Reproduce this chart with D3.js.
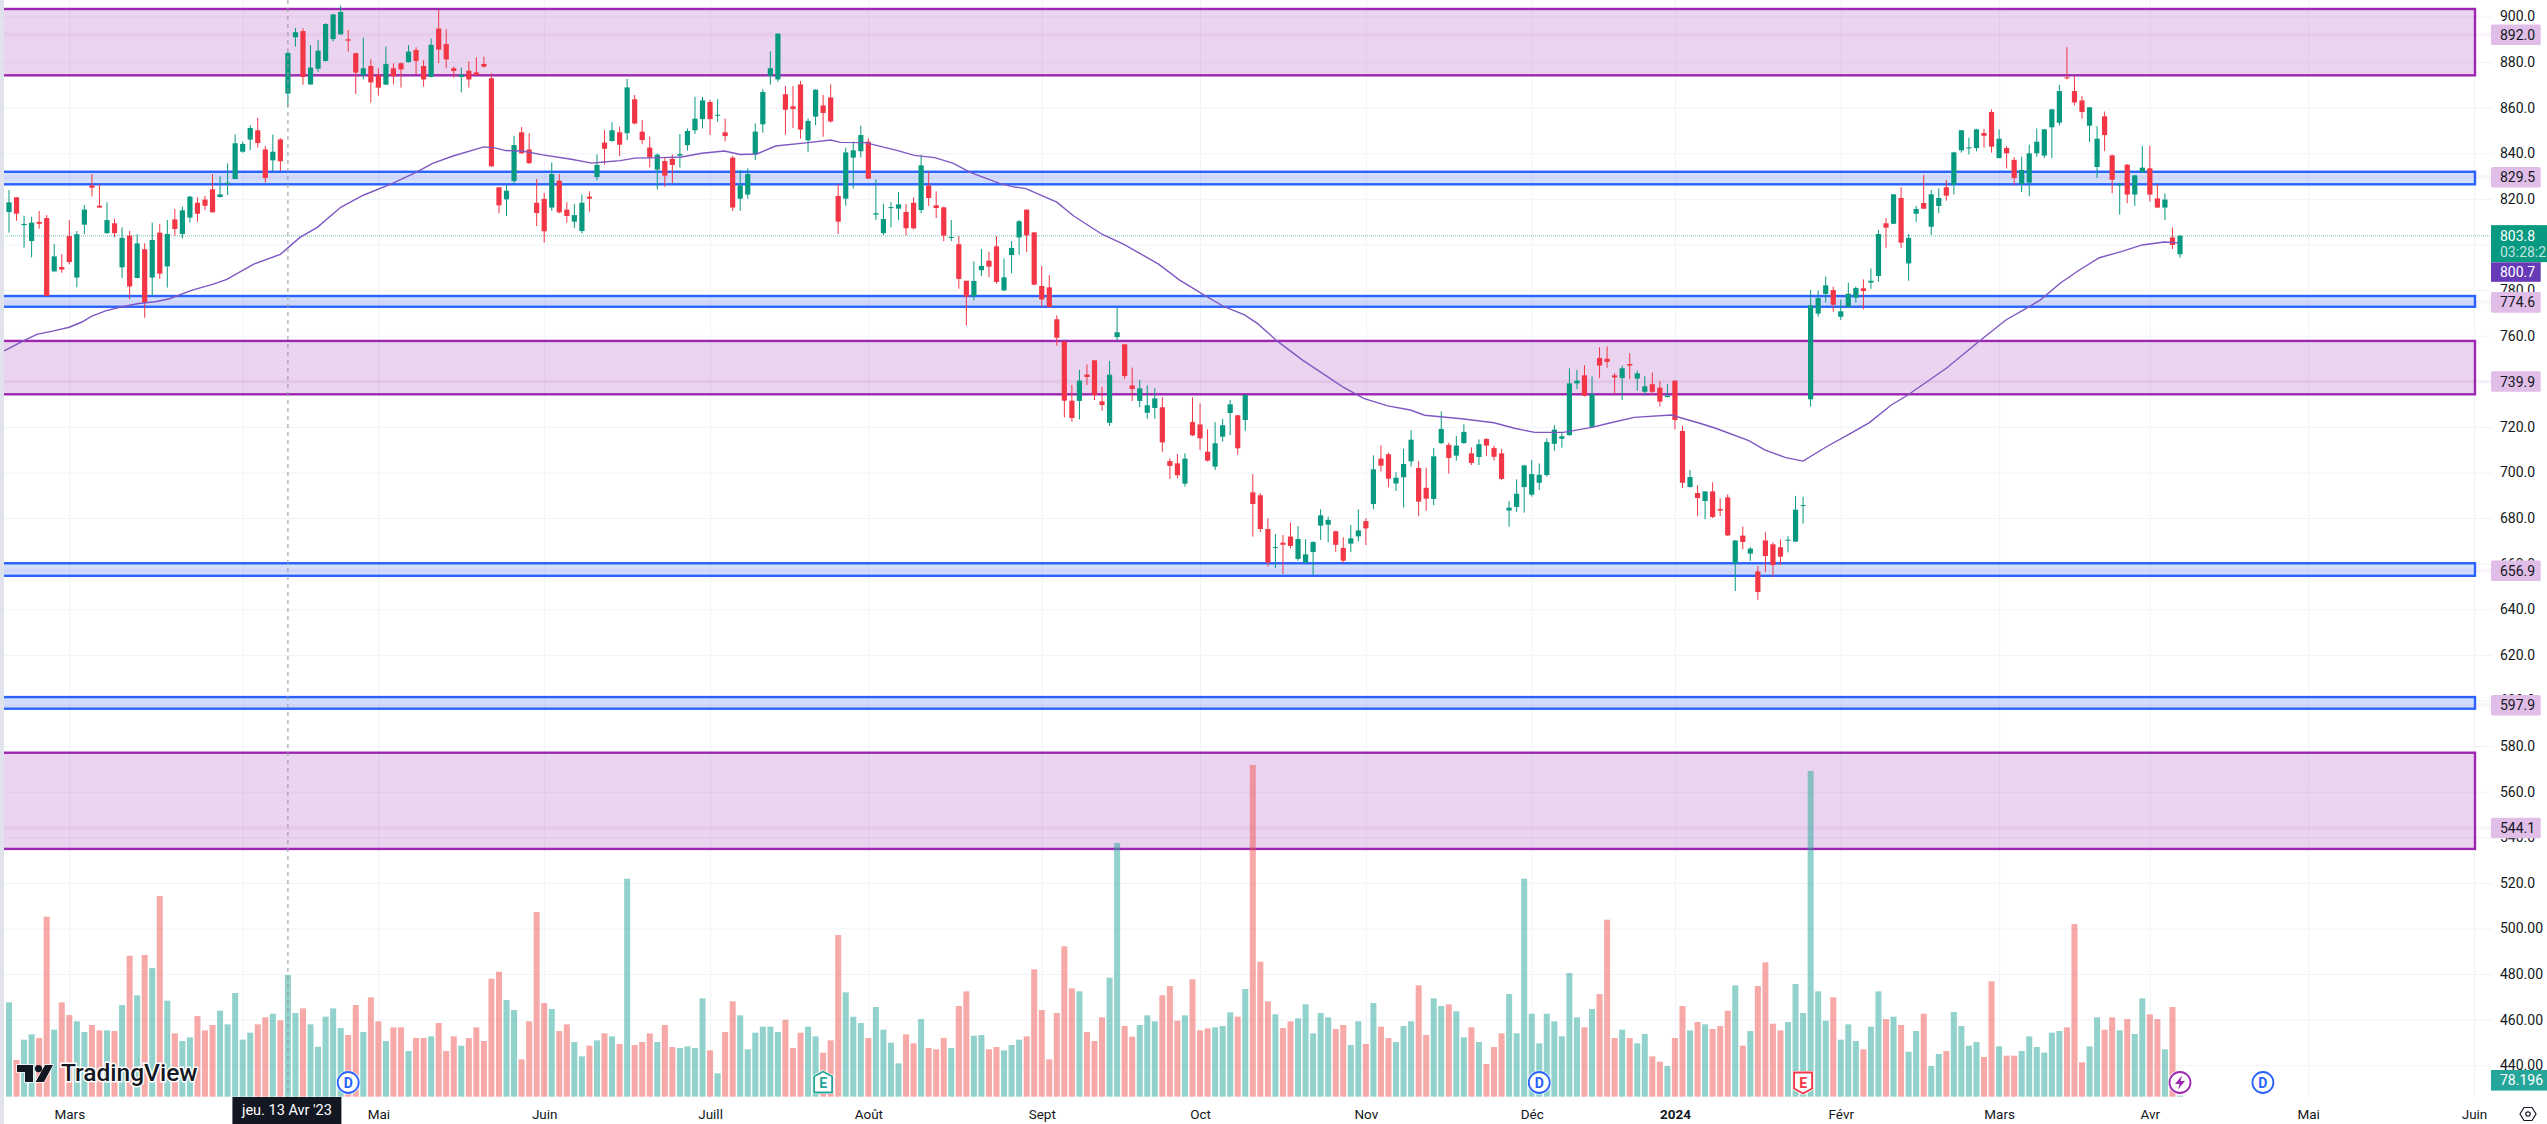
<!DOCTYPE html>
<html lang="fr">

<head>
    <meta charset="UTF-8">
    <title>TradingView chart</title>
    <script src="https://cdn.jsdelivr.net/npm/d3@7/dist/d3.min.js"></script>
    <style>
        html, body {
            margin: 0;
            padding: 0;
            background: #ffffff;
            overflow: hidden;
        }

        svg {
            display: block;
        }

        text {
            font-family: Roboto, 'Noto Sans', sans-serif;
            fill: #131722;
        }
    </style>
</head>

<body>
    <div id="chart"></div>
</body>
<script>
    // daily candles
    const opens = [814.2,820.7,808.5,801.5,809.9,811.6,788.2,790.1,803.7,785.5,808.7,825.9,817.0,805.0,809.3,790.0,803.9,785.3,797.9,785.5,805.2,790.4,811.0,804.6,811.8,818.3,819.7,824.2,820.8,826.5,
        828.7,840.7,846.0,850.1,841.7,836.9,846.1,866.2,890.9,893.6,870.2,877.1,880.5,890.1,892.2,890.0,883.9,874.2,878.3,874.3,870.1,877.3,879.5,880.0,885.3,878.3,873.5,894.7,887.9,877.3,
        873.5,876.2,875.5,879.2,872.9,825.1,819.8,827.8,849.2,841.7,818.3,820.0,816.2,828.0,815.3,810.0,805.9,821.0,829.6,844.7,845.4,849.2,848.8,863.7,849.5,842.5,832.8,836.6,837.6,839.0,
        843.6,850.1,855.0,862.5,856.5,849.2,838.1,820.1,821.9,839.5,852.7,874.0,872.4,865.9,860.6,870.2,845.7,856.1,861.0,864.5,821.3,820.1,838.1,840.9,845.1,813.1,805.0,816.2,815.7,814.3,
        818.3,815.1,825.9,817.2,816.3,802.9,800.1,784.1,777.3,788.7,792.9,799.2,779.9,795.4,803.1,815.3,805.3,781.8,781.2,767.2,757.5,731.5,731.4,743.0,749.2,731.2,721.8,759.4,756.2,738.2,
        731.4,726.2,728.3,728.6,705.0,704.0,695.1,722.1,721.1,709.1,702.6,715.7,726.1,725.1,723.0,691.3,690.0,675.2,667.0,669.2,671.9,662.1,660.5,665.1,676.7,677.1,674.2,666.9,668.8,672.0,
        678.7,686.2,706.1,708.0,695.2,697.9,704.9,702.0,693.3,688.4,712.9,712.1,707.4,712.9,708.4,706.8,714.7,710.7,708.4,683.3,684.9,693.6,690.3,695.5,698.9,712.6,714.8,716.4,739.1,742.6,
        720.0,750.2,749.9,742.6,741.4,747.6,741.2,735.4,738.7,737.2,733.1,740.3,718.2,693.6,691.0,687.5,691.7,684.0,689.1,660.2,672.3,664.4,656.6,670.2,668.5,667.2,670.1,669.7,685.3,732.1,
        769.7,778.3,780.0,768.3,772.6,776.7,780.8,783.3,786.2,809.3,809.1,820.4,791.7,813.5,818.2,807.8,816.9,825.1,826.2,841.3,842.2,842.3,848.9,858.1,837.9,842.3,837.1,826.5,827.1,840.0,
        839.0,851.4,853.4,873.3,867.3,863.2,852.1,834.0,856.2,839.1,825.9,835.0,821.9,831.7,833.4,820.2,816.2,803.1,795.7]
    const highs = [823.9,820.7,812.6,812.2,814.7,812.9,800.2,795.8,810.7,805.9,817.3,830.9,826.5,818.5,811.3,807.5,805.9,804.5,800.5,809.6,809.0,810.7,815.6,816.6,821.3,820.7,821.3,830.9,830.0,835.6,
        848.3,845.1,852.3,855.6,843.2,848.2,846.6,884.6,895.0,894.8,887.4,889.7,897.0,901.1,904.8,894.1,884.1,890.7,881.2,877.3,886.8,879.5,879.8,887.4,886.5,880.9,890.4,902.9,894.4,878.0,
        877.6,880.3,882.1,882.4,875.1,825.1,826.1,847.6,851.5,848.8,828.7,822.7,836.0,830.9,818.6,817.8,822.0,823.3,839.5,850.2,853.6,851.7,872.6,865.6,854.6,847.3,840.0,838.2,839.5,848.5,
        850.9,864.8,864.8,863.4,863.7,855.2,838.8,832.7,833.4,853.1,868.1,884.7,892.6,869.5,869.5,871.7,855.3,868.1,865.6,870.2,826.5,842.5,845.1,852.1,846.6,828.6,817.8,818.6,823.0,817.8,
        820.7,839.4,831.9,823.3,816.6,810.7,803.7,784.1,792.6,798.0,796.9,803.7,793.9,801.5,810.7,815.4,805.5,790.6,786.6,768.9,757.5,738.4,745.0,747.4,749.2,737.6,748.9,772.7,756.4,746.0,
        740.6,738.2,736.9,733.0,706.2,708.1,708.4,733.0,730.3,718.9,722.1,723.5,731.8,725.2,734.4,699.3,690.9,679.9,673.0,672.6,678.0,676.5,670.7,669.8,683.9,680.6,674.5,671.6,677.0,683.9,
        679.9,707.5,711.9,708.7,700.2,710.4,718.6,705.0,702.1,710.7,726.8,713.1,716.0,721.1,711.0,714.5,715.1,711.6,710.3,687.4,697.0,703.4,705.5,704.0,715.0,720.8,717.2,745.7,745.0,747.0,
        742.2,754.9,755.3,743.5,746.9,752.3,744.7,742.3,743.9,740.1,738.7,740.3,720.5,701.1,694.4,691.7,695.7,688.7,690.4,670.2,676.3,667.3,659.0,673.8,669.4,670.7,672.1,689.7,689.4,780.0,
        779.8,785.9,781.5,775.7,783.3,781.5,784.7,789.5,806.4,811.6,822.1,825.1,804.6,816.9,830.5,823.9,824.6,828.3,840.6,850.2,846.9,850.7,850.7,859.3,850.5,843.2,838.4,838.5,843.8,850.9,
        850.7,859.4,870.0,886.5,873.9,865.1,860.3,851.9,858.3,839.5,827.1,835.3,830.5,843.2,843.2,826.5,822.4,807.5,804.2]
    const lows = [805.2,810.4,798.6,794.4,806.9,777.4,788.1,787.6,791.3,781.2,804.6,821.0,816.2,804.6,803.2,785.3,775.9,785.2,767.9,777.4,784.9,781.1,803.9,802.7,809.6,810.0,815.1,814.1,820.7,821.7,
        828.7,840.3,841.4,842.5,827.1,831.9,832.2,860.4,886.8,870.1,870.0,875.7,880.2,889.1,891.9,884.6,866.0,872.4,862.3,865.3,870.0,870.2,868.8,879.8,874.6,869.2,873.3,879.5,877.3,873.2,
        866.7,868.8,874.2,877.6,834.1,813.7,812.5,826.5,839.7,835.3,808.1,800.8,814.8,813.7,809.6,807.2,804.9,814.4,828.1,835.0,845.1,838.8,845.8,852.7,844.1,833.8,824.2,825.4,827.0,833.7,
        841.2,848.5,850.9,848.0,853.9,845.2,814.7,814.8,820.1,837.1,849.0,870.1,871.4,848.2,851.1,846.4,840.7,852.3,847.3,853.4,804.6,817.0,824.5,838.2,828.7,810.7,804.2,807.5,810.7,804.0,
        806.6,813.7,816.9,811.6,801.4,801.5,780.6,764.5,775.4,786.2,785.6,782.8,779.6,787.4,795.5,796.7,782.1,772.7,772.4,755.6,724.2,722.3,723.3,738.4,731.8,727.1,720.5,757.8,741.0,731.4,
        728.6,723.6,723.6,709.1,697.2,697.4,693.8,716.0,709.9,704.8,701.1,713.5,716.3,707.8,718.3,671.9,673.8,658.7,658.0,655.5,666.7,661.3,660.2,655.0,670.4,669.4,665.2,660.2,665.2,669.7,
        668.2,683.9,700.4,693.5,691.9,684.7,702.6,680.9,683.2,685.7,712.5,699.5,705.2,712.6,703.3,703.3,707.2,705.2,696.7,676.2,682.7,682.4,689.4,692.3,698.2,709.6,710.9,716.1,736.6,733.3,
        719.7,741.4,746.0,734.4,731.8,741.0,735.9,733.8,734.0,728.9,733.0,718.9,693.1,693.5,680.9,679.5,680.0,680.9,672.2,648.0,666.3,661.2,644.2,656.3,654.0,659.4,665.0,669.5,677.6,728.9,
        768.3,774.5,770.5,766.9,772.3,774.5,771.6,780.6,783.7,798.6,809.0,798.5,784.1,809.9,815.6,804.2,813.7,819.2,821.9,840.3,839.5,840.9,842.5,840.3,837.8,833.3,825.9,823.0,821.1,838.5,
        837.9,837.9,852.1,872.4,861.0,855.2,844.9,829.2,840.9,822.4,813.1,818.1,816.9,831.5,818.8,816.0,810.7,798.0,794.2]
    const closes = [818.5,813.5,809.0,809.6,809.1,777.4,794.8,789.0,792.3,804.5,815.3,824.9,816.2,810.7,805.0,802.9,781.6,800.5,774.6,802.0,787.2,804.6,806.8,815.0,821.0,813.5,817.0,814.1,822.0,827.1,
        844.4,844.1,851.1,844.5,829.2,840.7,836.5,884.0,893.1,873.5,877.6,885.0,896.7,900.9,902.0,889.4,875.4,877.3,871.1,868.8,879.2,873.8,876.8,884.6,880.5,872.4,887.6,885.5,881.2,876.1,
        874.5,872.4,874.3,878.0,834.3,817.2,823.6,843.6,840.0,835.7,813.8,805.8,830.9,814.1,812.5,812.9,818.3,820.1,834.9,842.0,850.1,843.8,868.9,853.1,845.8,838.2,839.4,830.2,834.9,839.7,
        849.8,855.2,863.2,855.0,856.9,847.6,816.2,825.9,830.9,849.5,866.9,877.3,892.5,859.1,859.4,850.4,854.2,867.9,857.7,854.0,810.0,840.4,841.3,848.0,828.9,813.7,811.2,816.4,817.6,807.1,
        807.1,834.7,820.4,816.0,803.9,803.3,784.9,777.1,784.0,790.6,790.3,783.6,785.6,798.5,810.2,804.0,782.4,775.9,772.6,759.1,731.5,723.9,740.3,741.9,734.0,729.6,742.9,761.5,742.3,736.6,
        736.9,729.5,732.5,713.2,702.9,698.8,706.1,716.3,715.0,705.2,712.8,720.7,729.9,710.6,734.0,686.2,675.2,660.5,667.3,668.3,667.8,670.8,664.1,669.5,681.2,679.2,668.3,661.3,671.1,674.6,
        675.5,701.4,703.0,697.3,697.7,703.7,714.4,687.2,688.5,707.1,719.1,706.4,711.8,717.8,704.2,712.4,711.8,706.9,697.2,684.6,690.7,703.1,699.3,699.0,713.4,718.8,715.9,739.1,740.3,733.7,
        734.3,746.9,748.5,741.7,745.7,746.9,743.5,737.8,735.4,731.1,733.7,723.0,695.5,698.0,688.8,691.7,680.5,683.3,672.4,670.2,669.5,666.6,647.6,663.4,659.4,663.1,670.5,683.7,685.7,773.3,
        776.5,782.1,773.6,770.7,778.4,780.9,779.6,784.1,804.6,807.4,822.0,800.8,802.9,815.6,815.7,822.0,820.4,821.4,840.4,850.1,842.6,850.5,847.7,842.9,846.4,840.0,829.2,832.7,840.0,845.1,
        850.5,859.3,867.3,872.9,862.3,858.1,860.2,846.4,848.0,828.4,826.4,821.9,830.3,833.7,821.9,816.2,819.7,799.8,803.8]

    // volume per session, in thousands (the last bar is the 78.196 K tag)
    const volumes = [7075,2750,4275,4675,4400,13500,5025,7075,6125,5650,4850,5375,4975,4975,4925,6875,10575,7600,10625,9650,15050,7200,4750,4175,4450,6050,4975,5375,6450,5425,
        7775,4275,4800,5425,5950,6225,5725,9125,6275,6625,5425,3750,6000,6625,5150,4625,6875,4850,7450,5650,4175,5200,5200,3425,4400,4400,4525,5525,3425,4525,
        3825,4400,5200,4175,8850,9375,7250,6500,2800,5650,13850,7025,6575,4925,5425,4100,3025,3825,4225,4750,4525,3950,16350,3875,4100,4750,4100,5375,3725,3650,
        3775,3650,7375,3475,1750,4850,7150,6100,3550,4800,5250,5250,4850,5775,3650,4800,5250,4525,3300,4225,12125,7825,6000,5525,4400,6725,5025,4050,2500,4675,
        4000,5825,3650,3550,4400,3650,6800,7900,4575,4625,3550,3725,3475,3875,4275,4525,9550,6500,2800,6275,11275,8125,7900,4850,4175,5950,8925,19025,5300,4500,
        5375,6100,5650,7600,8300,5700,6100,8800,4975,5125,5200,5300,6325,6000,8075,24875,10125,7150,6175,5150,5650,5875,6925,4750,6275,5950,5075,5375,3875,5650,
        3950,7025,5250,4400,4100,5300,5650,8350,4625,7375,6800,6925,6400,4450,5200,4100,2450,3725,4750,7700,4750,16350,6225,4000,6225,5650,4525,9275,5950,5200,
        6575,7700,13275,4400,5025,4400,4000,4700,3025,2625,2300,4400,6800,4975,5600,5425,5075,5300,6450,8350,3825,4925,8300,10075,5475,4975,5600,8450,6275,24425,
        7900,5700,7450,4275,5425,4175,3550,5250,7900,5825,6000,5375,3375,4925,6225,2300,3200,3425,6350,5300,3825,4100,2975,8650,3775,3075,3075,3425,4525,3725,
        3300,4800,4925,5200,12950,2575,3775,5950,5025,5950,4975,5825,4700,7375,6175,5825,3550,6725,78.196]

    // moving average, read at the session positions where it bends
    const maSessions = [-0.65,2.1,3.7,5.9,8,9.6,11,12.9,15,17.2,19.4,21.3,24.3,27,28.9,32.4,36,38.6,40.9,44,47,50.8,54,56.2,58.9,63,64.3,65.9,68.1,70.8,74.6,77.3,78.9,81.1,83,
        86.5,89.2,91.9,94.9,97,99.2,101.7,106,109,110.3,113.6,117.9,120.1,122.8,125.2,127.6,131.4,133.1,134.9,139,141.2,145,147.9,152.5,155.3,158.5,161.2,163.9,165.6,168.3,
        171.6,174.8,177,179.7,182.9,185.9,187.8,192.7,197,199.7,202.4,206.2,210,212.2,215.6,220.5,224.3,226.4,230.8,232.9,235.7,238,241.1,244.3,246.8,249.7,251.9,257,261.4,264.9,267.6,269.5,
        272.1,274.5,277.3,280.2,283,285.9,287.8]
    const maValues = [753.3,758.1,760.6,762.1,763.7,765.9,768.6,771.0,772.7,774.1,774.9,776.2,780.0,782.5,784.7,791.3,795.7,803.1,807.5,816.3,821.6,826.7,831.6,835.6,838.8,842.8,842.5,841.2,841.0,839.3,837.4,835.7,836.2,836.8,837.9,
        838.1,838.4,840.0,841.0,839.5,839.7,843.2,844.7,845.8,844.8,844.7,841.2,839.1,838.1,835.7,831.5,826.8,825.4,824.5,818.6,812.6,804.5,800.1,791.4,784.4,777.9,772.7,769.1,765.4,757.5,
        749.3,742.3,737.4,732.5,729.2,727.4,725.1,723.6,721.8,719.4,717.6,717.6,719.8,721.6,724.2,725.2,721.6,719.4,714.0,709.9,706.5,705.0,711.3,717.2,721.9,729.6,734.0,745.7,757.7,766.9,772.0,775.7,
        783.0,788.5,794.2,796.9,799.8,801.1,800.7]

    // drawn zones: top price, bottom price, axis tag
    const zoneTops = [903.3, 831.9, 777.4, 757.7, 660.2, 601.5, 577.1]
    const zoneBottoms = [874.2, 826.4, 772.7, 734.3, 654.7, 596.4, 534.9]
    const zoneTags = [892.0, 829.5, 774.6, 739.9, 656.9, 597.9, 544.1]
    const zoneKinds = ['purple', 'blue', 'blue', 'purple', 'blue', 'blue', 'purple']

    const priceTicks = [900, 880, 860, 840, 820, 800, 780, 760, 740, 720, 700, 680, 660, 640, 620, 600, 580, 560, 540, 520, 500, 480, 460, 440]
    const monthSessions = [8, 31, 49, 71, 93, 114, 137, 158, 180, 202, 221, 243, 264, 284, 305, 327]
    const monthLabels = ['Mars', 'Avr', 'Mai', 'Juin', 'Juill', 'Août', 'Sept', 'Oct', 'Nov', 'Déc', '2024', 'Févr', 'Mars', 'Avr', 'Mai', 'Juin']

    const eventSessions = [45, 108, 203, 238, 288, 299]
    const eventKinds = ['D', 'Eup', 'D', 'Edown', 'bolt', 'D']

    const lastPrice = 803.8
    const lastMa = 800.7
    const crossSession = 37

    const width = 2547
    const height = 1124
    const plotRight = 2492
    const plotBottom = 1097
    const zoneLeft = 1
    const zoneRight = 2475

    const up = "#089981"
    const down = "#f23645"
    const zoneColors = {
        purple: { line: "#9c27b0", fill: "rgba(156,39,176,0.2)", tag: "#e1bee7" },
        blue: { line: "#2962ff", fill: "rgba(41,98,255,0.2)", tag: "#e1bee7" }
    }

    const x = d3.scaleLinear().domain([0, 288]).range([9, 2180])
    const y = d3.scaleLinear().domain([900, 440]).range([16.5, 1065.3])
    const volY = d3.scaleLinear().domain([0, 26000]).range([plotBottom - 0.3, plotBottom - 0.3 - 346.7])

    const sessions = d3.range(opens.length)
    const isUp = i => closes[i] >= opens[i]

    const svg = d3.select("#chart")
        .append("svg")
        .attr("width", width)
        .attr("height", height)

    svg.append("rect")
        .attr("width", width)
        .attr("height", height)
        .attr("fill", "#ffffff")

    // price axis with its grid lines
    const yAxis = d3.axisRight(y)
        .tickValues(priceTicks)
        .tickSizeInner(-plotRight)
        .tickSizeOuter(0)
        .tickPadding(8)
        .tickFormat(d => d > 500 ? d.toFixed(1) : d.toFixed(2))

    const yG = svg.append("g")
        .attr("transform", `translate(${plotRight},0)`)
        .call(yAxis)
    yG.select(".domain").remove()
    yG.selectAll("line").attr("stroke", "#f0f3fa")
    yG.selectAll("text").style("font-size", "14px").style("fill", "#131722")

    // time axis with its grid lines
    const xAxis = d3.axisBottom(x)
        .tickValues(monthSessions)
        .tickSizeInner(-plotBottom)
        .tickSizeOuter(0)
        .tickPadding(12)
        .tickFormat((d, i) => monthLabels[i])

    const xG = svg.append("g")
        .attr("transform", `translate(0,${plotBottom})`)
        .call(xAxis)
    xG.select(".domain").remove()
    xG.selectAll("line").attr("stroke", "#f0f3fa")
    xG.selectAll("text")
        .style("font-size", "13.5px")
        .style("font-weight", d => d === 221 ? 700 : 400)

    // zones
    svg.append("g").selectAll("rect")
        .data(d3.range(zoneTops.length))
        .enter().append("rect")
        .attr("x", zoneLeft)
        .attr("width", zoneRight - zoneLeft)
        .attr("y", i => y(zoneTops[i]))
        .attr("height", i => y(zoneBottoms[i]) - y(zoneTops[i]))
        .attr("fill", i => zoneColors[zoneKinds[i]].fill)
        .attr("stroke", i => zoneColors[zoneKinds[i]].line)
        .attr("stroke-width", 2.4)

    // faint band behind each tag
    svg.append("g").selectAll("line")
        .data(zoneTags)
        .enter().append("line")
        .attr("x1", zoneLeft)
        .attr("x2", plotRight)
        .attr("y1", d => y(d))
        .attr("y2", d => y(d))
        .attr("stroke", "#9c27b0")
        .attr("stroke-opacity", 0.05)
        .attr("stroke-width", 4)

    // volume
    svg.append("g").selectAll("rect")
        .data(sessions)
        .enter().append("rect")
        .attr("x", i => x(i) - 3)
        .attr("width", 6)
        .attr("y", i => volY(volumes[i]))
        .attr("height", i => volY(0) - volY(volumes[i]))
        .attr("fill", i => isUp(i) ? "#26a69a" : "#ef5350")
        .attr("fill-opacity", 0.5)

    // last price line
    svg.append("line")
        .attr("x1", zoneLeft)
        .attr("x2", plotRight)
        .attr("y1", y(lastPrice))
        .attr("y2", y(lastPrice))
        .attr("stroke", up)
        .attr("stroke-opacity", 0.6)
        .attr("stroke-dasharray", "1,1")

    // candles
    const candles = svg.append("g").selectAll("g")
        .data(sessions)
        .enter().append("g")

    candles.append("line")
        .attr("x1", i => x(i))
        .attr("x2", i => x(i))
        .attr("y1", i => y(highs[i]))
        .attr("y2", i => y(lows[i]))
        .attr("stroke", i => isUp(i) ? up : down)
        .attr("stroke-width", 1)

    candles.append("rect")
        .attr("x", i => x(i) - 2.6)
        .attr("width", 5.2)
        .attr("y", i => y(Math.max(opens[i], closes[i])))
        .attr("height", i => Math.max(1, Math.abs(y(opens[i]) - y(closes[i]))))
        .attr("fill", i => isUp(i) ? up : down)

    // moving average
    const maLine = d3.line()
        .x(i => x(maSessions[i]))
        .y(i => y(maValues[i]))

    svg.append("path")
        .attr("d", maLine(d3.range(maSessions.length)))
        .attr("fill", "none")
        .attr("stroke", "#7e57c2")
        .attr("stroke-width", 1.4)

    // crosshair
    svg.append("line")
        .attr("x1", x(crossSession))
        .attr("x2", x(crossSession))
        .attr("y1", 0)
        .attr("y2", plotBottom)
        .attr("stroke", "#9598a1")
        .attr("stroke-dasharray", "4,4")

    // events on the time line
    const events = svg.append("g").selectAll("g")
        .data(d3.range(eventSessions.length))
        .enter().append("g")
        .attr("transform", i => `translate(${x(eventSessions[i])},1082.5)`)

    events.each(function (i) {
        const g = d3.select(this)
        const kind = eventKinds[i]
        if (kind === "D" || kind === "bolt") {
            const col = kind === "D" ? "#2962ff" : "#9c27b0"
            g.append("circle").attr("r", 12).attr("fill", "#ffffff")
            g.append("circle").attr("r", 10.5).attr("fill", "#ffffff").attr("stroke", col).attr("stroke-width", 1.8)
            if (kind === "D") {
                g.append("text").text("D")
                    .attr("text-anchor", "middle").attr("y", 5)
                    .style("font-size", "14px").style("font-weight", 700).style("fill", col)
            } else {
                g.append("path").attr("d", "M2,-7 L-5,1.5 L-0.5,1.5 L-2,7 L5,-1.5 L0.5,-1.5 Z").attr("fill", col)
            }
        } else {
            const col = kind === "Eup" ? "#26a69a" : "#f23645"
            const d = kind === "Eup"
                ? "M0,-11 L9,-6 L9,10 L-9,10 L-9,-6 Z"
                : "M-9,-10 L9,-10 L9,6 L0,11 L-9,6 Z"
            g.append("path").attr("d", d).attr("fill", "#ffffff").attr("stroke", "#ffffff").attr("stroke-width", 3)
            g.append("path").attr("d", d).attr("fill", "#ffffff").attr("stroke", col).attr("stroke-width", 1.8)
            g.append("text").text("E")
                .attr("text-anchor", "middle").attr("y", 5)
                .style("font-size", "14px").style("font-weight", 700).style("fill", col)
        }
    })

    // TradingView mark
    const logo = svg.append("g")
    const logoParts = ["M17,1065 H33 V1082 H25 V1072 H17 Z", "M45,1065 H53 L44,1082 H35.5 Z"]
    logo.selectAll("path")
        .data(logoParts)
        .enter().append("path")
        .attr("d", d => d)
        .attr("fill", "#131722")
        .attr("stroke", "#ffffff")
        .attr("stroke-width", 1.5)
        .attr("paint-order", "stroke")
    logo.append("circle")
        .attr("cx", 38.5).attr("cy", 1068.6).attr("r", 3.6)
        .attr("fill", "#131722")
    logo.append("text").text("TradingView")
        .attr("x", 61).attr("y", 1081)
        .attr("paint-order", "stroke")
        .attr("stroke", "#ffffff")
        .attr("stroke-width", 3)
        .style("font-size", "24.5px")
        .style("font-weight", 500)

    // tags on the price axis
    const tags = svg.append("g").selectAll("g")
        .data(zoneTags)
        .enter().append("g")
        .attr("transform", d => `translate(2491,${y(d)})`)

    tags.append("rect")
        .attr("y", -10.3)
        .attr("width", 49.7)
        .attr("height", 20.6)
        .attr("rx", 1.5)
        .attr("fill", "#e1bee7")

    tags.append("text")
        .text(d => d.toFixed(1))
        .attr("x", 9)
        .attr("y", 5)
        .style("font-size", "14px")

    // last price tag
    const lastTag = svg.append("g").attr("transform", `translate(2491,${y(lastPrice) - 10.7})`)
    lastTag.append("rect").attr("width", 56).attr("height", 37).attr("fill", up)
    lastTag.append("text").text(lastPrice.toFixed(1))
        .attr("x", 9).attr("y", 15.5)
        .style("font-size", "14px").style("fill", "#ffffff")
    lastTag.append("text").text("03:28:2")
        .attr("x", 9).attr("y", 32)
        .style("font-size", "14px").style("fill", "#ffffff").style("fill-opacity", 0.75)

    // moving average tag
    const maTag = svg.append("g").attr("transform", "translate(2491,262.3)")
    maTag.append("rect").attr("width", 49.7).attr("height", 19.5).attr("fill", "#673ab7")
    maTag.append("text").text(lastMa.toFixed(1))
        .attr("x", 9).attr("y", 14.5)
        .style("font-size", "14px").style("fill", "#ffffff")

    // volume tag
    const volTag = svg.append("g").attr("transform", "translate(2491,1070)")
    volTag.append("rect").attr("width", 56).attr("height", 20.6).attr("fill", "#26a69a")
    volTag.append("text").text("78.196 K")
        .attr("x", 9).attr("y", 15)
        .style("font-size", "14px").style("fill", "#ffffff")

    // crosshair tag on the time axis
    const crossTag = svg.append("g").attr("transform", `translate(${x(crossSession)},${plotBottom})`)
    crossTag.append("rect")
        .attr("x", -55.5).attr("width", 109).attr("height", 27)
        .attr("fill", "#131722")
    crossTag.append("text").text("jeu. 13 Avr '23")
        .attr("text-anchor", "middle")
        .attr("x", -1).attr("y", 17.5)
        .style("font-size", "14.5px").style("fill", "#ffffff")

    // settings hexagon, bottom right
    const gear = svg.append("g").attr("transform", "translate(2528,1114)")
    gear.append("path")
        .attr("d", "M-8,0 L-4,-6.5 L4,-6.5 L8,0 L4,6.5 L-4,6.5 Z")
        .attr("fill", "none").attr("stroke", "#131722").attr("stroke-width", 1.2)
    gear.append("circle").attr("r", 2.2)
        .attr("fill", "none").attr("stroke", "#131722").attr("stroke-width", 1.2)

    // pane edge on the left
    svg.append("rect")
        .attr("width", 4)
        .attr("height", height)
        .attr("fill", "#e0e3eb")
</script>

</html>
